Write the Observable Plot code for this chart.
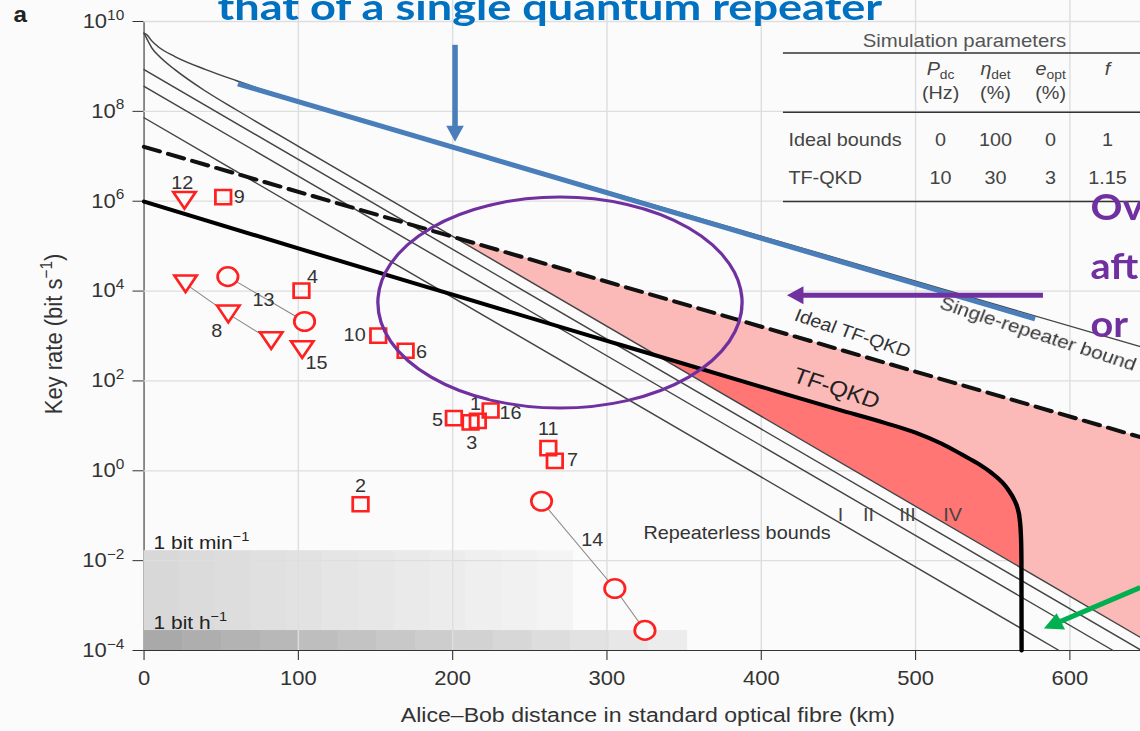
<!DOCTYPE html>
<html><head><meta charset="utf-8">
<script src="https://cdn.jsdelivr.net/npm/d3@7"></script>
<script src="https://cdn.jsdelivr.net/npm/@observablehq/plot@0.6"></script>
<style>
html,body{margin:0;padding:0;background:#fbfbfb;overflow:hidden;width:1140px;height:731px}
#wrap{width:1036px;height:731px;transform:scaleX(1.10039);transform-origin:0 0}
</style></head><body><div id="wrap"></div>
<script>
// ---------------- data ----------------
const distanceTicks = [0, 100, 200, 300, 400, 500, 600];
const rateTicks = [1e-4, 1e-2, 1, 1e2, 1e4, 1e6, 1e8, 1e10];

// single-repeater bound
const singleRepeaterKm = [0, 2, 5, 10, 20, 40, 60, 80, 100, 150, 200, 645.8];
const singleRepeaterRate = [5.5e9, 5.0e9, 3.7e9, 2.6e9, 1.66e9, 8.5e8, 4.8e8, 2.8e8, 1.74e8, 5.4e7, 1.66e7, 5.8e2];
// repeaterless bounds I-IV
const boundIKm = [0, 593];
const boundIRate = [7.2e7, 1e-4];
const boundIIKm = [0, 628];
const boundIIRate = [3.6e8, 1e-4];
const boundIIIKm = [0, 645.8];
const boundIIIRate = [8.5e8, 1.03e-4];
const boundIVKm = [0, 2, 5, 10, 20, 40, 60, 100, 645.8];
const boundIVRate = [5.5e9, 4.0e9, 2.6e9, 1.66e9, 8.5e8, 2.8e8, 1.07e8, 1.66e7, 1.95e-4];
// TF-QKD
const idealTfKm = [0, 645.8];
const idealTfRate = [1.62e7, 5.6];
const tfKm = [0, 100, 200, 300, 400, 450, 480, 500, 517, 530, 540, 549, 556, 560, 564, 566, 567.5, 568.3, 568.6, 568.7];
const tfRate = [9.8e5, 8.9e4, 8.3e3, 7.8e2, 74, 23, 11.7, 7.1, 4.0, 2.3, 1.48, 0.91, 0.56, 0.38, 0.224, 0.151, 0.083, 0.035, 0.0112, 1e-4];
// regions where TF-QKD beats the repeaterless bounds
const idealGainKm = [201, 645.8];
const idealGainTop = [1.58e5, 5.6];
const idealGainBottom = [1.58e5, 1.95e-4];
const tfGainKm = [335, 400, 450, 480, 500, 517, 530, 540, 549, 556, 560, 564, 566, 567.5, 568.3, 568.65];
const tfGainTop = [335, 74, 23, 11.7, 7.1, 4.0, 2.3, 1.48, 0.91, 0.56, 0.38, 0.224, 0.151, 0.083, 0.035, 7.0e-3];
const tfGainBottom = [335, 16.6, 1.66, 0.417, 0.166, 0.0759, 0.0417, 0.0263, 0.0174, 0.0126, 0.0105, 8.7e-3, 7.9e-3, 7.4e-3, 7.1e-3, 7.0e-3];
// 1 bit per minute / per hour bands
const minuteBandKm = [0, 278];
const minuteBandRate = [1e-4, 1 / 60];
const hourBandKm = [0, 352];
const hourBandRate = [1e-4, 1 / 3600];
// experiments
const expId = ["12","9","8","8","8","13","13","4","15","10","6","5","3","1","16","11","7","2","14","14","14"];
const expShape = ["triangle","square","triangle","triangle","triangle","circle","circle","square","triangle","square","square","square","square","square","square","square","square","square","circle","circle","circle"];
const expKm = [26.2, 51.3, 26.9, 54.6, 82.4, 54.3, 104, 102, 102.5, 151.8, 169.5, 200.8, 211.6, 216.3, 224.6, 262, 266.2, 140.3, 257.6, 305.1, 324.6];
const expRate = [1.05e6, 1.23e6, 1.45e4, 3.1e3, 7.9e2, 2.1e4, 2.1e3, 1.02e4, 5.0e2, 1.02e3, 4.7e2, 14.8, 12, 12.9, 22, 3.2, 1.66, 0.18, 0.21, 2.4e-3, 2.8e-4];
const labelPoint = {"12":0,"9":1,"8":3,"13":5,"4":7,"15":8,"10":9,"6":10,"5":11,"3":12,"1":13,"16":14,"11":15,"7":16,"2":17,"14":18};
// table
const tableRows = ["Ideal bounds", "TF-QKD"];
const tableHead = ["P_{dc}", "η_{det}", "e_{opt}", "f"];
const tableUnits = ["(Hz)", "(%)", "(%)", ""];
const tableValues = [["0", "100", "0", "1"], ["10", "30", "3", "1.15"]];

// ---------------- layout / style ----------------
const W = 1036, H = 731, S = 1140 / 1036;
const ML = 143.5 / S;
const XMAX = 645.8;
const labelOffset = {"12":[-2,-17],"9":[14.5,0],"8":[-10.6,17],"13":[32.5,24],"4":[10,-13.5],"15":[13,14],"10":[-21.5,0],"6":[14.5,2],"5":[-15,2],"3":[1,21],"1":[-2,-17],"16":[18,3],"11":[0,-19],"7":[16,-1],"2":[0,-18],"14":[46,39]};

const triDown = {draw(ctx, size) { const r = Math.sqrt(size / Math.PI); ctx.moveTo(-1.1 * r, -0.9 * r); ctx.lineTo(1.1 * r, -0.9 * r); ctx.lineTo(0, 0.9 * r); ctx.closePath(); }};

function steps(km, rate, c0, c1, n) {
  const out = [];
  for (let i = 0; i < n; i++) out.push({x1: km[0] + (km[1] - km[0]) * i / n, x2: km[0] + (km[1] - km[0]) * (i + 1) / n + 0.3, y1: rate[0], y2: rate[1], fill: d3.interpolateRgb(c0, c1)(i / (n - 1))});
  return out;
}
const experiments = expId.map((id, i) => ({id, shape: expShape[i], km: expKm[i], rate: expRate[i]}));
const linked = experiments.filter(d => ["8", "13", "14"].includes(d.id));
const labelMarks = Object.keys(labelPoint).map(k => {
  const p = experiments[labelPoint[k]];
  return Plot.text([p], {x: "km", y: "rate", text: "id", dx: labelOffset[k][0], dy: labelOffset[k][1], fontSize: 18, fill: "#333"});
});
const line = (km, rate, o) => Plot.line(km, {x: km, y: rate, ...o});
const T = (d, o) => Plot.text([d], {text: v => v, ...o});
const colKm = [516.2, 551.8, 587.5, 624.4];
const title = "that of a single quantum repeater";
const AX = "'Liberation Sans', Arial, Helvetica, sans-serif";

const chart = Plot.plot({
  width: W, height: H,
  marginLeft: ML, marginRight: 0, marginTop: 21, marginBottom: 81,
  style: {background: "#fbfbfb", fontFamily: AX, fontSize: "20px", color: "#333", overflow: "visible"},
  x: {domain: [0, XMAX], ticks: distanceTicks, tickSize: 10, tickPadding: 10, tickFormat: d => String(d), label: null, line: true},
  y: {type: "log", domain: [1e-4, 1e10], ticks: rateTicks, tickSize: 10, tickPadding: 8, label: null, line: true,
      tickFormat: d => { const e = Math.round(Math.log10(d)); return "10^{" + (e < 0 ? "−" + (-e) : e) + "}"; }},
  color: {type: "identity"},
  marks: [
    Plot.rect(steps(minuteBandKm, minuteBandRate, "#d8d8d8", "#f4f4f4", 12), {x1: "x1", x2: "x2", y1: "y1", y2: "y2", fill: "fill"}),
    Plot.rect(steps(hourBandKm, hourBandRate, "#a9a9a9", "#ececec", 14), {x1: "x1", x2: "x2", y1: "y1", y2: "y2", fill: "fill"}),
    Plot.ruleX(distanceTicks.slice(1), {y1: 1e-4, y2: 3e10, stroke: "#dedede", strokeWidth: 1.3}),
    Plot.ruleY(rateTicks.slice(1), {x1: 0, x2: XMAX, stroke: "#dedede", strokeWidth: 1.3}),
    Plot.areaY(idealGainKm, {x: idealGainKm, y1: idealGainBottom, y2: idealGainTop, fill: "#fbbab8"}),
    Plot.areaY(tfGainKm, {x: tfGainKm, y1: tfGainBottom, y2: tfGainTop, fill: "#ff7675", curve: "monotone-x"}),
    line(boundIKm, boundIRate, {stroke: "#444", strokeWidth: 1.4}),
    line(boundIIKm, boundIIRate, {stroke: "#444", strokeWidth: 1.4}),
    line(boundIIIKm, boundIIIRate, {stroke: "#444", strokeWidth: 1.4}),
    line(boundIVKm, boundIVRate, {stroke: "#444", strokeWidth: 1.4, curve: "monotone-x"}),
    line(singleRepeaterKm, singleRepeaterRate, {stroke: "#444", strokeWidth: 1.4, curve: "monotone-x"}),
    line(idealTfKm, idealTfRate, {stroke: "#111", strokeWidth: 4, strokeDasharray: "15,8"}),
    line(tfKm, tfRate, {stroke: "#000", strokeWidth: 4, curve: "monotone-x"}),
    Plot.line(linked, {x: "km", y: "rate", z: "id", stroke: "#8a8a8a", strokeWidth: 1}),
    Plot.dot(experiments.filter(d => d.shape === "square"), {x: "km", y: "rate", symbol: "square", r: 8, stroke: "#ff2020", strokeWidth: 2.5, fill: "none"}),
    Plot.dot(experiments.filter(d => d.shape === "circle"), {x: "km", y: "rate", symbol: "circle", r: 9.3, stroke: "#ff2020", strokeWidth: 2.5, fill: "#fbfbfb"}),
    Plot.dot(experiments.filter(d => d.shape === "triangle"), {x: "km", y: "rate", symbol: triDown, r: 9.3, stroke: "#ff2020", strokeWidth: 2.5, fill: "#fbfbfb"}),
    ...labelMarks,
    // in-plot annotations
    T("Ideal TF-QKD", {x: 459.2, y: 1.13e3, rotate: 20, fontSize: 18, fill: "#333"}),
    T("TF-QKD", {x: 448.8, y: 67.3, rotate: 20, fontSize: 22, fill: "#222"}),
    T("Single-repeater bound", {x: 579.4, y: 1.1e3, rotate: 19.5, fontSize: 19, fill: "#333"}),
    T("Repeaterless bounds", {x: 323.7, y: 0.0305, textAnchor: "start", lineAnchor: "bottom", fontSize: 18, fill: "#333"}),
    Plot.text(["I", "II", "III", "IV"], {x: [451.4, 469.5, 494.8, 524], y: 0.0767, text: d => d, lineAnchor: "bottom", fontSize: 18, fill: "#444"}),
    T("1 bit min^{−1}", {x: 6.2, y: 0.01824, textAnchor: "start", lineAnchor: "bottom", fontSize: 19, fill: "#222"}),
    T("1 bit h^{−1}", {x: 6.2, y: 3.0e-4, textAnchor: "start", lineAnchor: "bottom", fontSize: 19, fill: "#222"}),
    // axis titles
    T("Alice–Bob distance in standard optical fibre (km)", {frameAnchor: "bottom", dy: 71, dx: 5, textAnchor: "middle", lineAnchor: "bottom", fontSize: 21, fill: "#333"}),
    T("Key rate (bit s^{−1})", {frameAnchor: "left", dx: -81.5, dy: -2, rotate: -90, textAnchor: "middle", lineAnchor: "middle", fontSize: 22, fill: "#333"}),
    T("a", {x: -84.6, y: 9.7e9, textAnchor: "start", lineAnchor: "bottom", fontSize: 22, fontWeight: "bold", fill: "#222"}),
    // table
    T("Simulation parameters", {x: 531.7, y: 2.7e9, lineAnchor: "bottom", fontSize: 18.5, fill: "#555"}),
    Plot.ruleY([1.98e9, 9.5e7, 9.9e5], {x1: 414.4, x2: XMAX, stroke: "#333", strokeWidth: 1.5}),
    Plot.text(tableHead, {x: colKm, y: 6.4e8, text: d => d, lineAnchor: "bottom", fontSize: 18, fontStyle: "italic", fill: "#444"}),
    Plot.text(tableUnits, {x: colKm, y: 1.86e8, text: d => d, lineAnchor: "bottom", fontSize: 18, fill: "#444"}),
    Plot.text(tableRows, {x: 417.6, y: [1.66e7, 2.37e6], text: d => d, textAnchor: "start", lineAnchor: "bottom", fontSize: 18, fill: "#444"}),
    Plot.text(tableValues[0], {x: colKm, y: 1.66e7, text: d => d, lineAnchor: "bottom", fontSize: 18, fill: "#444"}),
    Plot.text(tableValues[1], {x: colKm, y: 2.37e6, text: d => d, lineAnchor: "bottom", fontSize: 18, fill: "#444"}),
    // slide overlay texts
    T(title, {x: 47.6, y: 1.07e10, textAnchor: "start", lineAnchor: "bottom", fontSize: 36, fontWeight: "bold", fontFamily: "Lato, 'Open Sans', sans-serif", fill: "#0070c0"}),
    Plot.text(["Ov", "aft", "or"], {x: 613.4, y: [3.74e5, 1.9e4, 970], text: d => d, textAnchor: "start", lineAnchor: "bottom", fontSize: 36, fontWeight: "bold", fontFamily: "Lato, 'Open Sans', sans-serif", fill: "#7030a0"})
  ]
});
document.getElementById("wrap").appendChild(chart);

// rich text: ^{sup} and _{sub}
d3.select(chart).selectAll("text").each(function () {
  const el = this;
  if (el.querySelector("tspan")) return;
  const s = el.textContent;
  if (!/[\^_]\{/.test(s)) return;
  const parts = s.split(/([\^_]\{[^}]*\})/).filter(p => p);
  el.textContent = "";
  let shift = 0;
  parts.forEach(p => {
    const m = p.match(/^([\^_])\{([^}]*)\}$/);
    const t = document.createElementNS("http://www.w3.org/2000/svg", "tspan");
    if (m) {
      t.textContent = m[2];
      t.setAttribute("font-size", "70%");
      t.setAttribute("font-style", "normal");
      const d = m[1] === "^" ? -0.42 : 0.22;
      t.setAttribute("dy", d / 0.7 + "em");
      shift = d;
    } else {
      t.textContent = p;
      if (shift) t.setAttribute("dy", (-shift) + "em");
      shift = 0;
    }
    el.appendChild(t);
  });
});
d3.select(chart).selectAll("text").filter(function () { return this.textContent === title; })
  .attr("textLength", 604).attr("lengthAdjust", "spacingAndGlyphs");

// slide overlays (arrows, ellipse, highlight line) positioned through the plot's scales
const xs = chart.scale("x"), ys = chart.scale("y");
const fx = d3.scaleLinear().domain(xs.domain).range(xs.range);
const fy = d3.scaleLog().domain(ys.domain).range(ys.range);
const g = d3.select(chart).append("g");
g.append("ellipse").attr("cx", fx(269.9)).attr("cy", fy(5.42e3)).attr("rx", 165.5).attr("ry", 105.5)
  .attr("fill", "none").attr("stroke", "#7030a0").attr("stroke-width", 3);
g.append("line").attr("x1", fx(61.2)).attr("y1", fy(3.98e8)).attr("x2", fx(577.8)).attr("y2", fy(2.34e3))
  .attr("stroke", "#4a7ebb").attr("stroke-width", 5);
function arrow(a, b, color, w, L, hw) {
  const x1 = fx(a[0]), y1 = fy(a[1]), x2 = fx(b[0]), y2 = fy(b[1]);
  const len = Math.hypot(x2 - x1, y2 - y1), ux = (x2 - x1) / len, uy = (y2 - y1) / len;
  const bx = x2 - ux * L, by = y2 - uy * L;
  g.append("line").attr("x1", x1).attr("y1", y1).attr("x2", bx + ux).attr("y2", by + uy).attr("stroke", color).attr("stroke-width", w);
  g.append("path").attr("d", `M${x2},${y2}L${bx - uy * hw},${by + ux * hw}L${bx + uy * hw},${by - ux * hw}Z`).attr("fill", color);
}
arrow([201.9, 2.95e9], [201.9, 2.04e7], "#4a7ebb", 5, 16, 8);
arrow([582.9, 7.9e3], [417.0, 7.9e3], "#7030a0", 5, 15, 9);
arrow([646, 2.45e-3], [583.5, 3.0e-4], "#00b050", 5, 17, 9);
</script></body></html>
